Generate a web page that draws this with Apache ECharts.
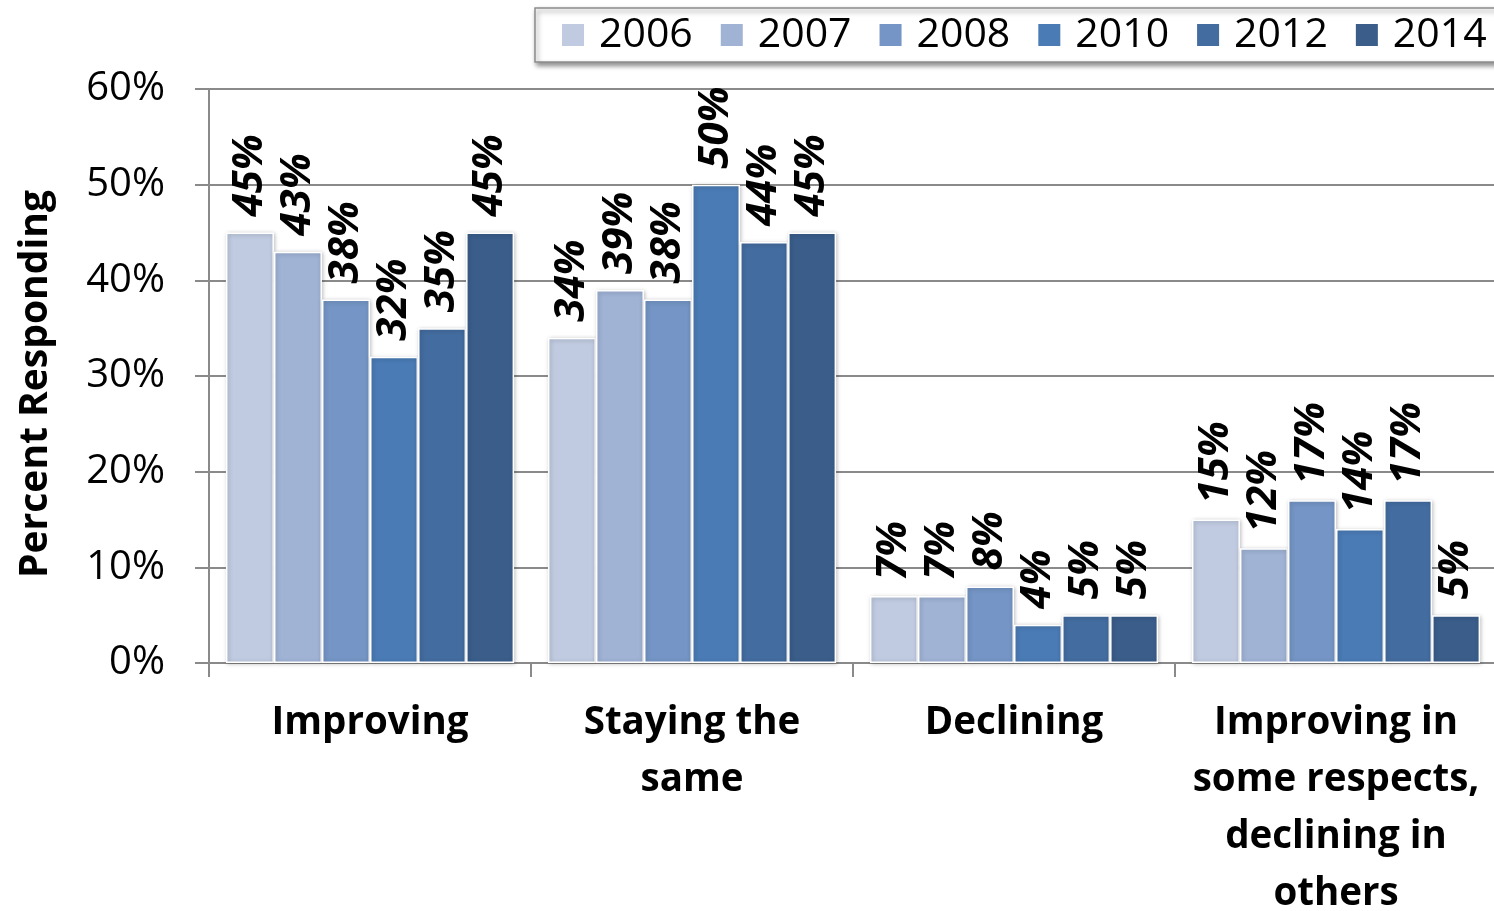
<!DOCTYPE html>
<html>
<head>
<meta charset="utf-8">
<script src="https://cdn.jsdelivr.net/npm/echarts@6/dist/echarts.min.js"></script>
<style>
  html, body { margin: 0; padding: 0; background: #fff; }
  #chart { width: 1494px; height: 911px; }
</style>
</head>
<body>
<div id="chart"></div>
<script>
// Survey responses by year
const categories = ['Improving', 'Staying the\nsame', 'Declining', 'Improving in\nsome respects,\ndeclining in\nothers'];
const years = ['2006', '2007', '2008', '2010', '2012', '2014'];
const v2006 = [45, 34, 7, 15];
const v2007 = [43, 39, 7, 12];
const v2008 = [38, 38, 8, 17];
const v2010 = [32, 50, 4, 14];
const v2012 = [35, 44, 5, 17];
const v2014 = [45, 45, 5, 5];
const yTicks = [0, 10, 20, 30, 40, 50, 60];

const seriesValues = [v2006, v2007, v2008, v2010, v2012, v2014];
const colors = ['#c0cbe1', '#a0b3d5', '#7495c5', '#4a7bb5', '#436ca0', '#3a5d8a'];
const font = '"Open Sans", "Noto Sans", sans-serif';

const chart = echarts.init(document.getElementById('chart'));
chart.setOption({
  animation: false,
  color: colors,
  legend: {
    data: years,
    orient: 'horizontal',
    left: 535,
    top: 8,
    width: 1400,
    padding: [6, 40, 6, 27],
    itemGap: 28,
    itemWidth: 22,
    itemHeight: 22,
    icon: 'rect',
    itemStyle: { borderWidth: 0, shadowBlur: 0, shadowOffsetX: 0, shadowOffsetY: 0 },
    borderColor: '#8c8c8c',
    borderWidth: 1.5,
    backgroundColor: '#fff',
    shadowColor: 'rgba(0,0,0,0.45)',
    shadowBlur: 5,
    shadowOffsetX: 2,
    shadowOffsetY: 3,
    z: 10,
    textStyle: { fontFamily: font, fontSize: 41, lineHeight: 42, color: '#000', padding: [0, 0, 0, 10] }
  },
  grid: { left: 209, top: 89, width: 1288, height: 574, outerBoundsMode: 'none' },
  xAxis: {
    type: 'category',
    data: categories,
    axisLine: { lineStyle: { color: '#8a8a8a', width: 2 } },
    axisTick: { show: true, length: 14, lineStyle: { color: '#8a8a8a', width: 2 } },
    axisLabel: {
      fontFamily: font, fontSize: 38.5, fontWeight: 'bold', color: '#000',
      lineHeight: 57, margin: 32, interval: 0
    }
  },
  yAxis: {
    type: 'value',
    min: yTicks[0],
    max: yTicks[yTicks.length - 1],
    interval: 10,
    name: 'Percent Responding',
    nameLocation: 'middle',
    nameGap: 154,
    nameTextStyle: { fontFamily: font, fontSize: 39, fontWeight: 'bold', color: '#000', padding: [0, 16, 0, 0] },
    axisLine: { show: true, lineStyle: { color: '#8a8a8a', width: 2 } },
    axisTick: { show: true, length: 14, lineStyle: { color: '#8a8a8a', width: 2 } },
    splitLine: { lineStyle: { color: '#8a8a8a', width: 2 } },
    axisLabel: {
      fontFamily: font, fontSize: 40, color: '#000', margin: 44,
      formatter: v => v + '%'
    }
  },
  series: years.map((y, i) => ({
    name: y,
    type: 'bar',
    data: seriesValues[i],
    barGap: '0%',
    barCategoryGap: '10.5%',
    itemStyle: {
      color: colors[i],
      borderColor: '#fff',
      borderWidth: 1.5,
      shadowColor: 'rgba(0,0,0,0.25)',
      shadowBlur: 4,
      shadowOffsetX: 1,
      shadowOffsetY: 1
    },
    label: {
      show: true,
      position: 'top',
      rotate: 90,
      align: 'left',
      verticalAlign: 'middle',
      distance: 16,
      fontFamily: font,
      fontSize: 42,
      fontWeight: 'bold',
      fontStyle: 'italic',
      color: '#000',
      formatter: p => p.value + '%'
    }
  }))
});
</script>
</body>
</html>
